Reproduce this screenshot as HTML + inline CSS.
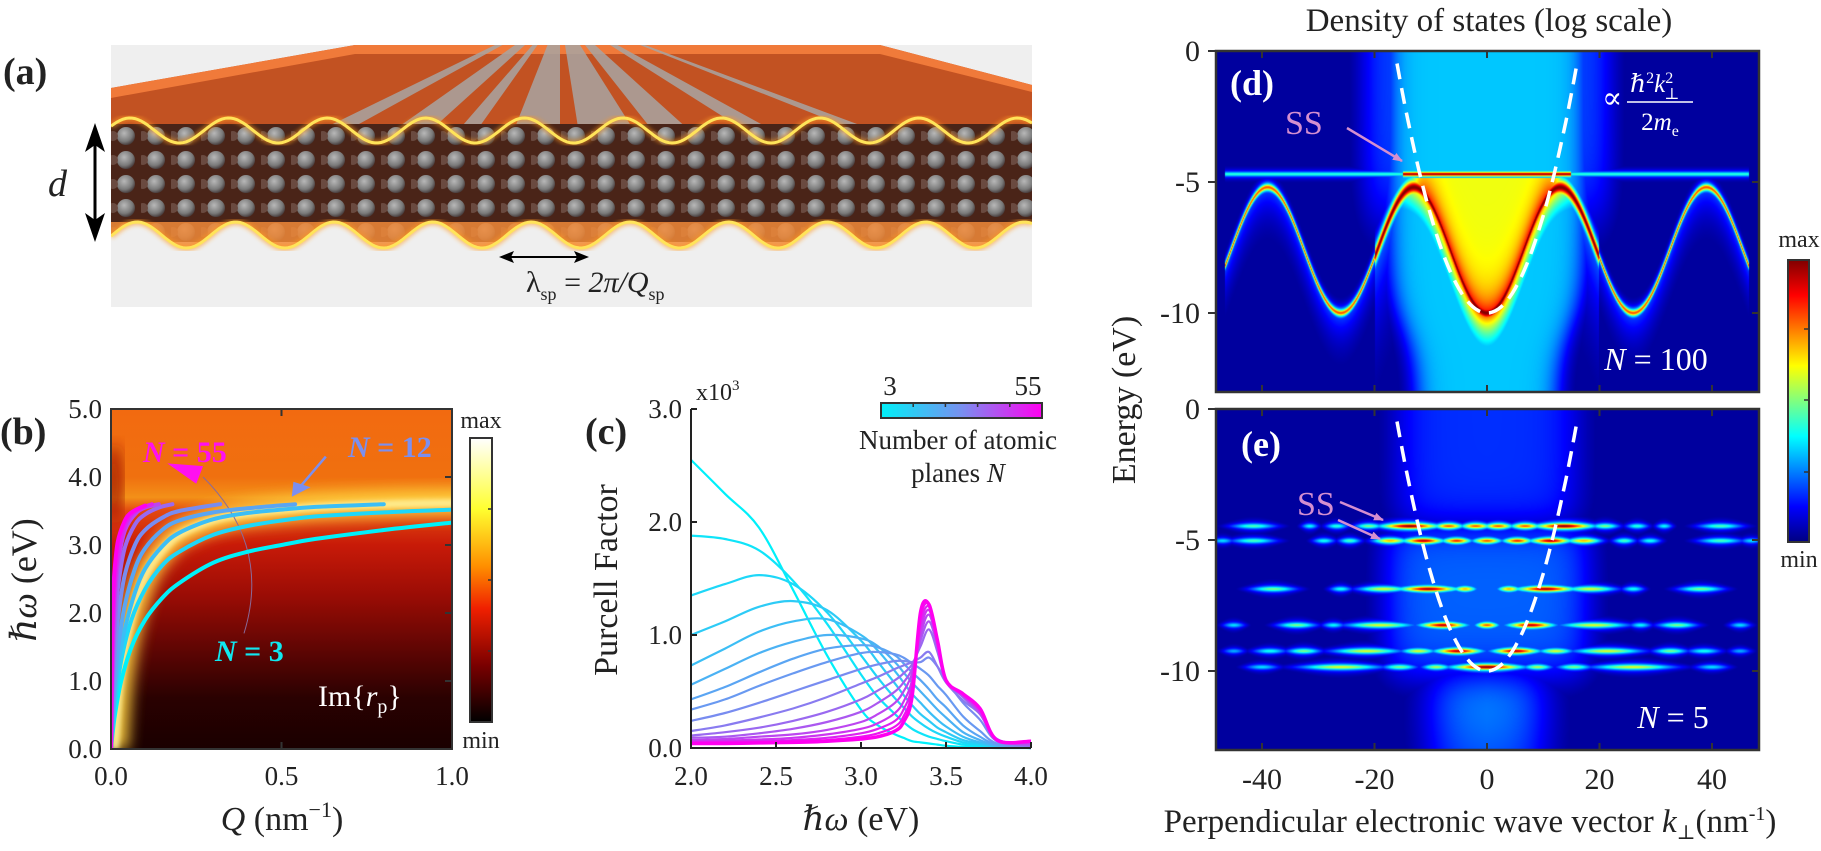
<!DOCTYPE html>
<html><head><meta charset="utf-8">
<style>
html,body{margin:0;padding:0;background:#fff;}
#wrap{position:relative;width:1821px;height:851px;overflow:hidden;font-family:"Liberation Serif","DejaVu Serif",serif;}
canvas{position:absolute;left:0;top:0;}
svg{position:absolute;left:0;top:0;}
text{font-family:"Liberation Serif","DejaVu Serif",serif;fill:#222;}
</style></head>
<body>
<div id="wrap">
<canvas id="heat" width="1821" height="851"></canvas>
<svg id="fig" width="1821" height="851" viewBox="0 0 1821 851" xmlns="http://www.w3.org/2000/svg" font-family="Liberation Serif, serif">
<defs>
 <linearGradient id="bbg" x1="0" y1="0" x2="0" y2="1">
  <stop offset="0" stop-color="#f26a10"/><stop offset="0.2" stop-color="#f0700f"/>
  <stop offset="0.26" stop-color="#f39018"/><stop offset="0.3" stop-color="#e24810"/>
  <stop offset="0.4" stop-color="#c81a08"/><stop offset="0.55" stop-color="#9a0c05"/>
  <stop offset="0.72" stop-color="#5a0503"/><stop offset="0.85" stop-color="#2a0101"/>
  <stop offset="1" stop-color="#1a0000"/>
 </linearGradient>
 <linearGradient id="bcb" x1="0" y1="0" x2="0" y2="1">
  <stop offset="0" stop-color="#ffffff"/><stop offset="0.25" stop-color="#ffff30"/>
  <stop offset="0.45" stop-color="#ff9000"/><stop offset="0.6" stop-color="#f02000"/>
  <stop offset="0.8" stop-color="#7a0000"/><stop offset="1" stop-color="#000"/>
 </linearGradient>
 <linearGradient id="jetcb" x1="0" y1="0" x2="0" y2="1">
  <stop offset="0" stop-color="#800000"/><stop offset="0.125" stop-color="#ff0000"/>
  <stop offset="0.375" stop-color="#ffff00"/><stop offset="0.625" stop-color="#00ffff"/>
  <stop offset="0.875" stop-color="#0000ff"/><stop offset="1" stop-color="#000080"/>
 </linearGradient>
 <linearGradient id="ccb" x1="0" y1="0" x2="1" y2="0">
  <stop offset="0" stop-color="#00f0f8"/><stop offset="0.5" stop-color="#7890f0"/><stop offset="1" stop-color="#ff00f0"/>
 </linearGradient>
 <radialGradient id="ball" cx="0.4" cy="0.35" r="0.65">
  <stop offset="0" stop-color="#b8b8b8"/><stop offset="0.7" stop-color="#7a7a7a"/><stop offset="1" stop-color="#4a4040"/>
 </radialGradient>
 <pattern id="balls" x="111" y="124" width="30" height="24" patternUnits="userSpaceOnUse">
  <rect width="30" height="24" fill="#4a2418"/>
  <circle cx="15" cy="12" r="9" fill="url(#ball)"/>
  <circle cx="2" cy="12" r="5" fill="#6a4a40"/>
 </pattern>
 <filter id="blur8"><feGaussianBlur stdDeviation="7"/></filter>
 <filter id="blur2"><feGaussianBlur stdDeviation="2"/></filter>
 <clipPath id="bclip"><rect x="111" y="409" width="341" height="340"/></clipPath>
 <clipPath id="aclip"><rect x="111" y="45" width="921" height="262"/></clipPath>
 <marker id="arrPink" markerWidth="10" markerHeight="8" refX="9" refY="4" orient="auto" markerUnits="userSpaceOnUse"><path d="M0,0 L10,4 L0,8 z" fill="#d58fd0"/></marker>
</defs>
<g id="panelA"></g>
<g id="panelB"></g>
<g id="panelC"></g>
<g id="panelDE"></g>
</svg>
</div>
<script>
// ---------- DATA ----------
const bCurveN = [3, 6, 9, 12, 20, 30, 40, 48, 55];
const bQ = [
 [0,.01,.03,.06,.1,.15,.2,.3,.4,.5,.6,.8,1.0],
 [0,.01,.03,.06,.1,.15,.2,.3,.4,.5,.6,.8,1.0],
 [0,.01,.02,.04,.07,.1,.15,.2,.3,.4,.5,.6,.8],
 [0,.01,.02,.04,.07,.1,.15,.2,.3,.4,.54],
 [0,.005,.01,.02,.04,.07,.1,.15,.2,.32],
 [0,.005,.01,.02,.04,.07,.1,.14,.18],
 [0,.005,.01,.02,.04,.07,.1,.14],
 [0,.004,.008,.015,.03,.05,.08,.12],
 [0,.003,.006,.01,.02,.04,.06,.1]
];
const bW = [
 [0,.45,1.0,1.5,1.9,2.22,2.44,2.74,2.9,3.0,3.09,3.22,3.33],
 [0,.6,1.3,1.9,2.35,2.7,2.9,3.15,3.28,3.36,3.42,3.48,3.52],
 [0,.75,1.2,1.75,2.3,2.65,2.98,3.18,3.38,3.47,3.52,3.56,3.6],
 [0,.9,1.45,2.1,2.65,2.95,3.22,3.36,3.48,3.54,3.6],
 [0,.8,1.3,1.9,2.55,3.0,3.22,3.4,3.5,3.6],
 [0,1.1,1.7,2.35,2.95,3.3,3.45,3.55,3.6],
 [0,1.4,2.05,2.7,3.2,3.45,3.55,3.6],
 [0,1.5,2.1,2.65,3.1,3.38,3.52,3.6],
 [0,1.6,2.2,2.6,3.05,3.35,3.48,3.58]
];
const bXTicks = [0, 0.5, 1.0];
const bXTickLabels = ["0.0","0.5","1.0"];
const bYTicks = [0,1,2,3,4,5];
const bYTickLabels = ["0.0","1.0","2.0","3.0","4.0","5.0"];

const cE = [2.0,2.2,2.4,2.6,2.8,3.0,3.1,3.2,3.25,3.3,3.35,3.4,3.45,3.5,3.6,3.7,3.8,4.0];
const cPF = [
 [2.55,2.25,1.95,1.4,0.82,0.34,0.2,0.12,0.09,0.06,0.05,0.04,0.03,0.02,0.01,0.005,0,0],
 [1.88,1.85,1.75,1.48,1.1,0.65,0.45,0.3,0.23,0.17,0.13,0.1,0.08,0.06,0.03,0.02,0.01,0],
 [1.35,1.45,1.53,1.45,1.2,0.82,0.62,0.44,0.36,0.28,0.22,0.17,0.13,0.1,0.05,0.03,0.01,0],
 [1.0,1.12,1.25,1.3,1.22,0.95,0.76,0.57,0.47,0.38,0.3,0.24,0.18,0.14,0.07,0.04,0.01,0],
 [0.73,0.88,1.03,1.12,1.14,1.0,0.86,0.68,0.58,0.48,0.4,0.32,0.25,0.19,0.1,0.05,0.02,0],
 [0.56,0.7,0.84,0.94,1.0,0.97,0.9,0.76,0.67,0.58,0.5,0.42,0.34,0.27,0.14,0.07,0.02,0],
 [0.43,0.54,0.67,0.79,0.88,0.91,0.89,0.82,0.75,0.67,0.6,0.52,0.43,0.36,0.2,0.1,0.03,0],
 [0.34,0.43,0.55,0.66,0.76,0.84,0.85,0.83,0.8,0.75,0.7,0.64,0.55,0.47,0.28,0.15,0.04,0],
 [0.24,0.31,0.4,0.5,0.6,0.7,0.74,0.77,0.77,0.76,0.76,0.8,0.72,0.6,0.4,0.25,0.06,0],
 [0.15,0.2,0.27,0.35,0.45,0.57,0.63,0.7,0.73,0.76,0.8,0.85,0.72,0.58,0.42,0.3,0.08,0.01],
 [0.11,0.14,0.18,0.24,0.32,0.43,0.51,0.6,0.66,0.74,0.9,1.05,0.85,0.6,0.45,0.3,0.08,0.02],
 [0.09,0.1,0.13,0.17,0.23,0.32,0.4,0.5,0.58,0.7,0.95,1.12,0.9,0.6,0.46,0.31,0.07,0.03],
 [0.07,0.08,0.1,0.12,0.16,0.23,0.3,0.4,0.5,0.66,1.0,1.18,0.92,0.6,0.46,0.31,0.07,0.04],
 [0.06,0.065,0.075,0.09,0.12,0.17,0.22,0.31,0.41,0.6,1.05,1.22,0.93,0.6,0.47,0.33,0.07,0.05],
 [0.05,0.055,0.06,0.07,0.09,0.13,0.17,0.24,0.34,0.55,1.1,1.25,0.94,0.6,0.47,0.34,0.07,0.06],
 [0.045,0.05,0.05,0.06,0.07,0.1,0.13,0.19,0.28,0.5,1.15,1.27,0.95,0.6,0.48,0.35,0.07,0.06],
 [0.04,0.04,0.045,0.05,0.06,0.08,0.1,0.15,0.23,0.45,1.2,1.27,0.95,0.6,0.48,0.35,0.07,0.06]
];
const cXTicks = [2.0,2.5,3.0,3.5,4.0];
const cXTickLabels = ["2.0","2.5","3.0","3.5","4.0"];
const cYTicks = [0,1,2,3];
const cYTickLabels = ["0.0","1.0","2.0","3.0"];

const dBandMid = [-7.6];
const dBandAmp = [2.4];
const dBandPeriod = [26];
const dSurfaceState = [-4.7];
const dParabolaCoef = [0.0372];
const dParabolaMin = [-10];
const eLevels = [-4.47, -5.03, -6.87, -8.25, -9.24, -9.85];
const eBlobs = [
 [[2,2.5,0.8],[6.8,2.5,0.8],[13.7,5,1.0],[21,2.5,0.5],[26.7,2,0.42],[31.5,1.5,0.38],[41.5,4,0.45]],
 [[0,2.5,0.8],[5.4,2.5,0.85],[11.3,3.5,0.95],[17.2,3,0.7],[24.4,2,0.45],[29,2,0.4],[41.5,4,0.45],[47,2,0.35]],
 [[3.9,2,0.7],[10.4,5,0.97],[18.4,4.5,0.6],[26,2,0.4],[38,4,0.5]],
 [[0,2,0.8],[7.8,4,0.95],[19,6,0.6],[27.3,2,0.38],[33.8,3.5,0.5],[45,2,0.35]],
 [[5.1,4,0.95],[12.2,3,0.6],[21.4,6,0.6],[32.6,3,0.5],[38.6,3,0.4],[45,2,0.3]],
 [[0,6,1.0],[9,2.5,0.55],[15.5,3,0.5],[26,7,0.6],[40,3,0.35]]
];
const deXTicks = [-40,-20,0,20,40];
const deXTickLabels = ["-40","-20","0","20","40"];
const deYTicks = [0,-5,-10];
const deYTickLabels = ["0","-5","-10"];

// ---------- HELPERS ----------
const NS = "http://www.w3.org/2000/svg";
function mk(parent, tag, attrs, txt){
  const el = document.createElementNS(NS, tag);
  if (tag === 'text') el.setAttribute('font-family', 'Liberation Serif, DejaVu Serif, serif');
  for (const k in attrs) el.setAttribute(k, attrs[k]);
  if (txt !== undefined) el.textContent = txt;
  parent.appendChild(el);
  return el;
}
function crPath(pts){
  let d = "M" + pts[0][0].toFixed(1) + "," + pts[0][1].toFixed(1);
  for (let i=0;i<pts.length-1;i++){
    const p0 = pts[Math.max(0,i-1)], p1 = pts[i], p2 = pts[i+1], p3 = pts[Math.min(pts.length-1,i+2)];
    const c1x = p1[0]+(p2[0]-p0[0])/6, c1y = p1[1]+(p2[1]-p0[1])/6;
    const c2x = p2[0]-(p3[0]-p1[0])/6, c2y = p2[1]-(p3[1]-p1[1])/6;
    d += " C"+c1x.toFixed(1)+","+c1y.toFixed(1)+" "+c2x.toFixed(1)+","+c2y.toFixed(1)+" "+p2[0].toFixed(1)+","+p2[1].toFixed(1);
  }
  return d;
}
function lerpCol(t){
  const a=[0,240,250], m=[120,140,240], b=[255,0,240];
  let c;
  if (t<0.5){ const s=t*2; c=a.map((v,i)=>v+(m[i]-v)*s); }
  else { const s=(t-0.5)*2; c=m.map((v,i)=>v+(b[i]-v)*s); }
  return "rgb("+c.map(v=>Math.round(v)).join(",")+")";
}

const A = document.getElementById('panelA');
const B = document.getElementById('panelB');
const C = document.getElementById('panelC');
const DE = document.getElementById('panelDE');

// ---------- PANEL A ----------
(function(){
  let t = mk(A,'text',{x:3,y:84,'font-size':38,'font-weight':'bold'},'(a)');
   
  const g = mk(A,'g',{'clip-path':'url(#aclip)'});
   
  mk(g,'rect',{x:111,y:45,width:921,height:262,fill:'#efefef'});
  mk(g,'polygon',{points:'111,88 355,45 880,45 1032,85 1032,140 111,140',fill:'#c25222'});
  mk(g,'polygon',{points:'111,88 355,45 880,45 1032,85 1032,92 880,54 355,54 111,98',fill:'#f07a3a'});
  const stripes = [[300,330],[380,420],[450,470],[510,560],[580,640],[660,700],[760,790],[880,900]];
  stripes.forEach(s=>{
    mk(g,'polygon',{points:(560+(s[0]-560)*0.25)+',45 '+(560+(s[1]-560)*0.25)+',45 '+s[1]+',140 '+s[0]+',140',fill:'#a8a4a2',opacity:0.85});
  });
  mk(g,'rect',{x:111,y:124,width:921,height:118,fill:'url(#balls)'});
  const P = 98.6;
  let top=[], bot=[];
  for (let x=111;x<=1032;x+=3){
    top.push([x,130.5-12.5*Math.cos(2*Math.PI*(x-130)/P)]);
    bot.push([x,235-13*Math.cos(2*Math.PI*(x-137)/P)]);
  }
  let dBotFill = "M"+bot.map(p=>p[0]+","+p[1].toFixed(1)).join(" L")+" L1032,222 L111,222 Z";
  mk(g,'path',{d:dBotFill,fill:'#f08a3a',opacity:0.85});
  mk(g,'path',{d:"M"+bot.map(p=>p[0]+","+p[1].toFixed(1)).join(" L")+" L1032,307 L111,307 Z",fill:'#efefef'});
  [top,bot].forEach(w=>{
    mk(g,'path',{d:"M"+w.map(p=>p[0]+","+p[1].toFixed(1)).join(" L"),fill:'none',stroke:'#ff9a20','stroke-width':6,opacity:0.6,filter:'url(#blur2)'});
    mk(g,'path',{d:"M"+w.map(p=>p[0]+","+p[1].toFixed(1)).join(" L"),fill:'none',stroke:'#ffe45a','stroke-width':3});
  });
  const da = mk(A,'g',{});  
  mk(da,'line',{x1:95,y1:135,x2:95,y2:230,stroke:'#000','stroke-width':3});
  mk(da,'polygon',{points:'95,123 85,152 95,145 105,152',fill:'#000'});
  mk(da,'polygon',{points:'95,242 85,213 95,220 105,213',fill:'#000'});
  t = mk(A,'text',{x:48,y:196,'font-size':38,'font-style':'italic'},'d');
   
  const la = mk(A,'g',{});  
  mk(la,'line',{x1:505,y1:257,x2:582,y2:257,stroke:'#000','stroke-width':2});
  mk(la,'polygon',{points:'499,257 514,251 511,257 514,263',fill:'#000'});
  mk(la,'polygon',{points:'589,257 574,251 577,257 574,263',fill:'#000'});
  t = mk(A,'text',{x:526,y:292,'font-size':30},'');
   
  t.innerHTML = '<tspan>λ</tspan><tspan font-size="18" dy="8">sp</tspan><tspan dy="-8"> = </tspan><tspan font-style="italic">2π/Q</tspan><tspan font-size="18" dy="8">sp</tspan>';
})();

// ---------- PANEL B ----------
const xQ = q => 111 + q*341;
const yW = w => 749 - w*68;
(function(){
  const g = mk(B,'g',{'clip-path':'url(#bclip)'});
   
  mk(g,'rect',{x:111,y:409,width:341,height:340,fill:'url(#bbg)'});
  mk(g,'ellipse',{cx:114,cy:yW(3.9),rx:9,ry:40,fill:'#a01806',filter:'url(#blur8)',opacity:0.8});
  const gi = 2;
  const glowPts = bQ[gi].map((q,i)=>[xQ(q)+4,yW(bW[gi][i])]);
  glowPts.push([xQ(1.05),yW(3.62)]);
  mk(g,'path',{d:crPath(glowPts),fill:'none',stroke:'#ffd040','stroke-width':26,filter:'url(#blur8)',opacity:0.9});
  mk(g,'path',{d:crPath(glowPts),fill:'none',stroke:'#fff4a0','stroke-width':8,filter:'url(#blur2)',opacity:0.8});
  mk(g,'path',{d:'M'+xQ(0.39)+','+yW(1.7)+' Q'+xQ(0.47)+','+yW(3.0)+' '+xQ(0.27)+','+yW(4.0),fill:'none',stroke:'#8a6a9a','stroke-width':1});
  bCurveN.forEach((n,ci)=>{
    const pts = bQ[ci].map((q,i)=>[xQ(q),yW(bW[ci][i])]);
    const p = mk(g,'path',{d:crPath(pts),fill:'none',stroke:lerpCol(ci/(bCurveN.length-1)),'stroke-width':4,'stroke-linecap':'round'});
    
    
  });
  const ah = mk(B,'polygon',{points:xQ(0.165)+','+yW(4.2)+' '+xQ(0.27)+','+yW(4.16)+' '+xQ(0.25)+','+yW(3.9),fill:'#ff10f0'});
   
  mk(B,'line',{x1:xQ(0.63),y1:yW(4.3),x2:xQ(0.55),y2:yW(3.83),stroke:'#7b8ff0','stroke-width':2.5});
  mk(B,'polygon',{points:xQ(0.53)+','+yW(3.71)+' '+xQ(0.535)+','+yW(3.93)+' '+xQ(0.585)+','+yW(3.85),fill:'#7b8ff0'});
  let t = mk(B,'text',{x:143,y:462,'font-size':30,'font-weight':'bold',style:'fill:#ff10f0'},'');
  t.innerHTML='<tspan font-style="italic">N</tspan> = 55';
   
  t = mk(B,'text',{x:348,y:457,'font-size':30,'font-weight':'bold',style:'fill:#7b8ff0'},'');
  t.innerHTML='<tspan font-style="italic">N</tspan> = 12';
   
  t = mk(B,'text',{x:215,y:661,'font-size':30,'font-weight':'bold',style:'fill:#10e8f0'},'');
  t.innerHTML='<tspan font-style="italic">N</tspan> = 3';
   
  t = mk(B,'text',{x:318,y:706,'font-size':30,style:'fill:#fff'},'');
  t.innerHTML='Im{<tspan font-style="italic">r</tspan><tspan font-size="20" dy="7">p</tspan><tspan dy="-7">}</tspan>';
   
  const ax = mk(B,'rect',{x:111,y:409,width:341,height:340,fill:'none',stroke:'#333','stroke-width':2});
   
  bXTicks.forEach((v,i)=>{
    mk(B,'line',{x1:xQ(v),y1:749,x2:xQ(v),y2:742,stroke:'#333','stroke-width':2});
    mk(B,'line',{x1:xQ(v),y1:409,x2:xQ(v),y2:416,stroke:'#333','stroke-width':2});
    const tl = mk(B,'text',{x:xQ(v),y:785,'font-size':27,'text-anchor':'middle'},bXTickLabels[i]);
     
  });
  bYTicks.forEach((v,i)=>{
    mk(B,'line',{x1:452,y1:yW(v),x2:445,y2:yW(v),stroke:'#333','stroke-width':2});
    const tl = mk(B,'text',{x:102,y:yW(v)+9,'font-size':27,'text-anchor':'end'},bYTickLabels[i]);
     
  });
  t = mk(B,'text',{x:282,y:830,'font-size':34,'text-anchor':'middle'},'');
  t.innerHTML='<tspan font-style="italic">Q</tspan> (nm<tspan font-size="22" dy="-13">−1</tspan><tspan dy="13">)</tspan>';
   
  t = mk(B,'text',{x:0,y:0,'font-size':36,'text-anchor':'middle',transform:'translate(36,580) rotate(-90)'},'');
  t.innerHTML='<tspan font-style="italic">ℏω</tspan> (eV)';
   
  t = mk(B,'text',{x:0,y:444,'font-size':38,'font-weight':'bold'},'(b)');
   
  const cb = mk(B,'rect',{x:470,y:438,width:22,height:284,fill:'url(#bcb)',stroke:'#333','stroke-width':2});
   
  [0.25,0.5,0.75].forEach(f=>mk(B,'line',{x1:492,y1:438+284*f,x2:488,y2:438+284*f,stroke:'#333','stroke-width':1.5}));
  t = mk(B,'text',{x:481,y:428,'font-size':24,'text-anchor':'middle'},'max');  
  t = mk(B,'text',{x:481,y:748,'font-size':24,'text-anchor':'middle'},'min');  
})();

// ---------- PANEL C ----------
const xE = e => 691 + (e-2)*170;
const yP = p => 748 - p*113;
(function(){
  cPF.forEach((row,ci)=>{
    const pts = cE.map((e,i)=>[xE(e),yP(row[i])]);
    const last = ci===cPF.length-1;
    const p = mk(C,'path',{d:crPath(pts),fill:'none',stroke:lerpCol(ci/(cPF.length-1)),'stroke-width':last?3.5:2.2});
    
    
  });
  const ax = mk(C,'path',{d:'M691,409 L691,748 L1031,748',fill:'none',stroke:'#222','stroke-width':2});
   
  cXTicks.forEach((v,i)=>{
    mk(C,'line',{x1:xE(v),y1:748,x2:xE(v),y2:742,stroke:'#222','stroke-width':2});
    const tl = mk(C,'text',{x:xE(v),y:785,'font-size':27,'text-anchor':'middle'},cXTickLabels[i]);
     
  });
  cYTicks.forEach((v,i)=>{
    mk(C,'line',{x1:691,y1:yP(v),x2:697,y2:yP(v),stroke:'#222','stroke-width':2});
    const tl = mk(C,'text',{x:682,y:yP(v)+9,'font-size':27,'text-anchor':'end'},cYTickLabels[i]);
     
  });
  let t = mk(C,'text',{x:696,y:400,'font-size':24},'');
  t.innerHTML='x10<tspan font-size="15" dy="-10">3</tspan>';
   
  t = mk(C,'text',{x:0,y:0,'font-size':34,'text-anchor':'middle',transform:'translate(617,580) rotate(-90)'},'Purcell Factor');
   
  t = mk(C,'text',{x:861,y:830,'font-size':34,'text-anchor':'middle'},'');
  t.innerHTML='<tspan font-style="italic">ℏω</tspan> (eV)';
   
  t = mk(C,'text',{x:585,y:444,'font-size':38,'font-weight':'bold'},'(c)');
   
  const lb = mk(C,'rect',{x:881,y:403,width:161,height:15,fill:'url(#ccb)',stroke:'#333','stroke-width':2});
   
  [0.2,0.4,0.6,0.8].forEach(f=>mk(C,'line',{x1:881+161*f,y1:403,x2:881+161*f,y2:407,stroke:'#333','stroke-width':1.5}));
  t = mk(C,'text',{x:890,y:395,'font-size':27,'text-anchor':'middle'},'3');  
  t = mk(C,'text',{x:1028,y:395,'font-size':27,'text-anchor':'middle'},'55');  
  t = mk(C,'text',{x:958,y:449,'font-size':27,'text-anchor':'middle'},'Number of atomic');  
  t = mk(C,'text',{x:958,y:482,'font-size':27,'text-anchor':'middle'},''); t.innerHTML='planes <tspan font-style="italic">N</tspan>';
   
})();

// ---------- PANELS D / E ----------
const X0 = 1216, X1 = 1759, dTop = 51, eTop = 409, PH = 341;
const xK = k => 1487 + k*5.625;
const kX = x => (x-1487)/5.625;
const yDE = (top,E) => top - E*26.2;
function jet(v){
  v = Math.max(0,Math.min(1,v));
  const c = t=>Math.max(0,Math.min(1,1.5-Math.abs(t)));
  return [c(4*v-3)*255, c(4*v-2)*255, c(4*v-1)*255];
}
const sig = x => 1/(1+Math.exp(-x));
function bandE(k){ return dBandMid[0] - dBandAmp[0]*Math.cos(2*Math.PI*k/dBandPeriod[0]); }
function intD(k,E){
  const ak = Math.abs(k);
  let I = 0.03;
  const hw = 17.5 - 5*sig((-10.5-E)/0.8);
  I = Math.max(I, 0.32*sig((hw-ak)/1.3));
  I = Math.max(I, 0.19*sig((22-ak)/1.5)*sig((E+6.5)/0.8));
  const Eb = bandE(k);
  if (ak < 46.5){
    if (ak < 20){
      I = Math.max(I, 1.0/(1+Math.pow((E-Eb)/0.28,2)));
      if (E < Eb) I = Math.max(I, 0.85*Math.exp((E-Eb)/1.3)*sig((15-ak)/1.5));
      if (E > Eb && E < -4.85) I = Math.max(I, (0.61 + 0.28*Math.exp(-(E-Eb)/0.7))*sig((13.5-ak)/0.8));
      if (ak >= 12 && E < Eb) I = Math.max(I, 0.25*Math.exp((E-Eb)/2.5));
    } else {
      I = Math.max(I, 0.8/(1+Math.pow((E-Eb)/0.12,2)));
      if (E < Eb) I = Math.max(I, 0.22*Math.exp((E-Eb)/1.0));
    }
    const ssI = ak < 15 ? 0.97 : 0.42;
    I = Math.max(I, ssI/(1+Math.pow((E-dSurfaceState[0])/0.09,2)));
  }
  return I;
}
function intE(k,E){
  const ak = Math.abs(k);
  let I = 0.03;
  const up = sig((E+4.4)/0.4);
  const low = sig((-10.2-E)/0.5);
  I = Math.max(I, 0.17*sig((16-ak)/2.2)*up);
  I = Math.max(I, 0.22*sig((18-ak)/2)*(1-up)*(1-low));
  I = Math.max(I, (0.3 - Math.max(0,-10.2-E)*0.03)*sig((10-ak)/2.5)*low);
  eLevels.forEach((El,li)=>{
    const lz = 1/(1+Math.pow((E-El)/0.1,2));
    if (lz < 0.02) return;
    eBlobs[li].forEach(b=>{
      const g1 = Math.exp(-Math.pow((k-b[0])/b[1],2)), g2 = Math.exp(-Math.pow((k+b[0])/b[1],2));
      I = Math.max(I, b[2]*Math.max(g1,g2)*lz);
    });
  });
  return I;
}
(function(){
  const cv = document.getElementById('heat');
  const ctx = cv.getContext('2d');
  const W = X1-X0;
  [[dTop,intD],[eTop,intE]].forEach(([top,f])=>{
    const img = ctx.createImageData(W,PH);
    for (let j=0;j<PH;j++){
      const E = -(j+0.5)/26.2;
      for (let i=0;i<W;i++){
        const k = kX(X0+i+0.5);
        const c = jet(f(k,E));
        const o = (j*W+i)*4;
        img.data[o]=c[0]; img.data[o+1]=c[1]; img.data[o+2]=c[2]; img.data[o+3]=255;
      }
    }
    ctx.putImageData(img,X0,top);
  });
})();
(function(){
  [['d',dTop],['e',eTop]].forEach(([nm,top])=>{
    const g = mk(DE,'g',{});  
    const pts=[];
    for (let k=-17;k<=17.01;k+=0.5){
      const E = dParabolaMin[0] + dParabolaCoef[0]*k*k;
      if (E <= 0.05) pts.push([xK(k),yDE(top,E)]);
    }
    const pp = mk(g,'path',{d:'M'+pts.map(p=>p[0].toFixed(1)+','+Math.max(top,p[1]).toFixed(1)).join(' L'),fill:'none',stroke:'#fff','stroke-width':3.5,'stroke-dasharray':'16 9'});
     
    const fr = mk(g,'rect',{x:X0,y:top,width:X1-X0,height:PH,fill:'none',stroke:'#333','stroke-width':2.5});
     
    deXTicks.forEach((v,i)=>{
      mk(g,'line',{x1:xK(v),y1:top,x2:xK(v),y2:top+7,stroke:'#333','stroke-width':2});
      mk(g,'line',{x1:xK(v),y1:top+PH,x2:xK(v),y2:top+PH-7,stroke:'#333','stroke-width':2});
      if (nm==='e'){
        const tl = mk(g,'text',{x:xK(v),y:789,'font-size':30,'text-anchor':'middle'},deXTickLabels[i]);
         
      }
    });
    deYTicks.forEach((v,i)=>{
      mk(g,'line',{x1:X0-8,y1:yDE(top,v),x2:X0,y2:yDE(top,v),stroke:'#333','stroke-width':2});
      mk(g,'line',{x1:X1,y1:yDE(top,v),x2:X1-7,y2:yDE(top,v),stroke:'#333','stroke-width':2});
      const tl = mk(g,'text',{x:X0-16,y:yDE(top,v)+10,'font-size':30,'text-anchor':'end'},deYTickLabels[i]);
       
    });
  });
  let t = mk(DE,'text',{x:1230,y:95,'font-size':36,'font-weight':'bold',style:'fill:#fff'},'(d)');
   
  t = mk(DE,'text',{x:1241,y:456,'font-size':36,'font-weight':'bold',style:'fill:#fff'},'(e)');
   
  t = mk(DE,'text',{x:1285,y:134,'font-size':34,style:'fill:#d58fd0'},'SS');
   
  mk(DE,'line',{x1:1347,y1:128,x2:1402,y2:161,stroke:'#d58fd0','stroke-width':2.5,'marker-end':'url(#arrPink)'});
  t = mk(DE,'text',{x:1297,y:515,'font-size':34,style:'fill:#d58fd0'},'SS');
   
  mk(DE,'line',{x1:1340,y1:502,x2:1383,y2:520,stroke:'#d58fd0','stroke-width':2.5,'marker-end':'url(#arrPink)'});
  mk(DE,'line',{x1:1338,y1:520,x2:1380,y2:539,stroke:'#d58fd0','stroke-width':2.5,'marker-end':'url(#arrPink)'});
  t = mk(DE,'text',{x:1602,y:108,'font-size':30,style:'fill:#fff'},'∝');
   
  t = mk(DE,'text',{x:1630,y:92,'font-size':25,style:'fill:#fff','font-style':'italic'},'');
  t.innerHTML='ℏ<tspan font-size="16" dy="-9" font-style="normal">2</tspan><tspan dy="9">k</tspan><tspan font-size="16" dy="-9" font-style="normal">2</tspan><tspan font-size="16" dx="-9" dy="16" font-style="normal">⊥</tspan>';
   
  mk(DE,'line',{x1:1627,y1:102,x2:1693,y2:102,stroke:'#fff','stroke-width':1.5});
  t = mk(DE,'text',{x:1660,y:130,'font-size':25,'text-anchor':'middle',style:'fill:#fff'},'');
  t.innerHTML='2<tspan font-style="italic">m</tspan><tspan font-size="16" dy="6">e</tspan>';
   
  t = mk(DE,'text',{x:1656,y:370,'font-size':32,'text-anchor':'middle',style:'fill:#fff'},'');
  t.innerHTML='<tspan font-style="italic">N</tspan> = 100';
   
  t = mk(DE,'text',{x:1673,y:728,'font-size':32,'text-anchor':'middle',style:'fill:#fff'},'');
  t.innerHTML='<tspan font-style="italic">N</tspan> = 5';
   
  t = mk(DE,'text',{x:1489,y:31,'font-size':33,'text-anchor':'middle'},'Density of states (log scale)');
   
  t = mk(DE,'text',{x:1470,y:832,'font-size':33,'text-anchor':'middle'},'');
  t.innerHTML='Perpendicular electronic wave vector <tspan font-style="italic">k</tspan><tspan font-size="20" dy="7">⊥</tspan><tspan dy="-7">(nm</tspan><tspan font-size="20" dy="-12">-1</tspan><tspan dy="12">)</tspan>';
   
  t = mk(DE,'text',{x:0,y:0,'font-size':34,'text-anchor':'middle',transform:'translate(1135,400) rotate(-90)'},'Energy (eV)');
   
  const cb = mk(DE,'rect',{x:1788,y:260,width:21,height:282,fill:'url(#jetcb)',stroke:'#333','stroke-width':2});
   
  [329,400,472].forEach(y=>mk(DE,'line',{x1:1809,y1:y,x2:1804,y2:y,stroke:'#333','stroke-width':1.5}));
  t = mk(DE,'text',{x:1799,y:247,'font-size':24,'text-anchor':'middle'},'max');  
  t = mk(DE,'text',{x:1799,y:567,'font-size':24,'text-anchor':'middle'},'min');  
})();
</script>
</body></html>
